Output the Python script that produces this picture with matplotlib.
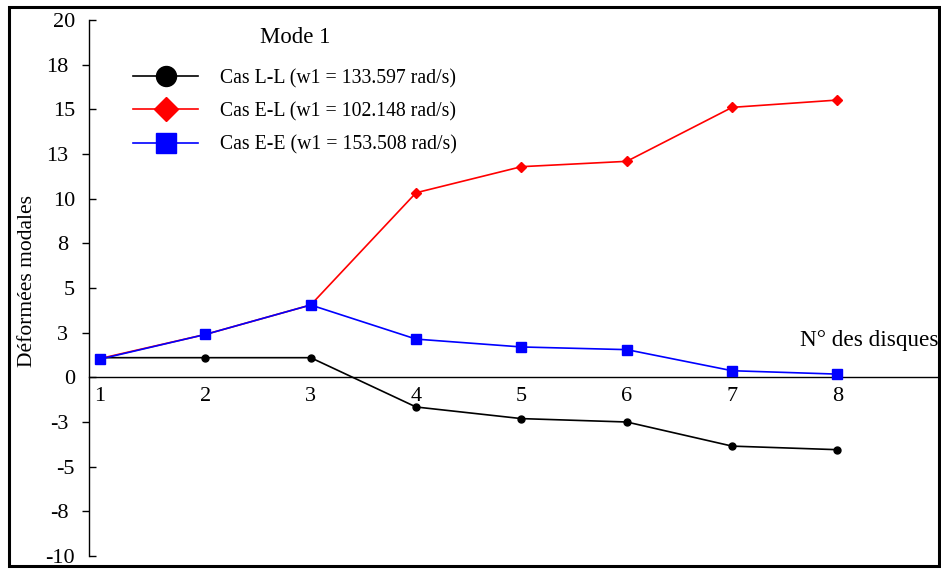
import matplotlib as mpl
mpl.use('Agg')
import matplotlib.pyplot as plt
from matplotlib.lines import Line2D
from matplotlib.patches import Rectangle

plt.rcParams['font.family'] = ['Liberation Serif', 'DejaVu Serif']

# N° des disques et déformées modales (mode 1)
disques = [1, 2, 3, 4, 5, 6, 7, 8]
cas_ll = [1.10, 1.10, 1.10, -1.66, -2.31, -2.50, -3.85, -4.05]
cas_el = [1.05, 2.40, 4.05, 10.33, 11.79, 12.09, 15.11, 15.52]
cas_ee = [1.02, 2.40, 4.05, 2.14, 1.70, 1.55, 0.37, 0.18]

lab_ll = 'Cas L-L (w1 = 133.597 rad/s)'
lab_el = 'Cas E-L (w1 = 102.148 rad/s)'
lab_ee = 'Cas E-E (w1 = 153.508 rad/s)'

yt_major = [-10, -5, 0, 5, 10, 15, 20]
yt_minor = [-7.5, -2.5, 2.5, 7.5, 12.5, 17.5]
yl_major = ['-10', '-5', '0', '5', '10', '15', '20']
yl_minor = ['-8', '-3', '3', '8', '13', '18']

W, H = 941, 569
fig = plt.figure(figsize=(W / 100, H / 100), dpi=100)
ax = fig.add_axes([89 / W, 13 / H, (940 - 89) / W, (556 - 20) / H])

ax.plot(disques, cas_ll, color='black', lw=1.2, marker='o', ms=5, zorder=3)
ax.plot(disques, cas_el, color='red', lw=1.2, marker='D', ms=4.6, zorder=4)
ax.plot(disques, cas_ee, color='blue', lw=1.2, marker='s', ms=6.5, zorder=5)

ax.set_xlim(0.8956, 8.973)
ax.set_ylim(-10, 20)

for s in ['top', 'right']:
    ax.spines[s].set_visible(False)
ax.spines['bottom'].set_position(('data', 0))
ax.spines['left'].set_linewidth(1.0)
ax.spines['bottom'].set_linewidth(1.0)

ax.set_xticks(disques)
ax.set_xticklabels([str(d) for d in disques])
ax.tick_params(axis='x', length=0, pad=7, labelsize=16)

ax.set_yticks(yt_major)
ax.set_yticklabels(yl_major)
ax.set_yticks(yt_minor, minor=True)
ax.set_yticklabels(yl_minor, minor=True)
ax.tick_params(axis='y', which='major', direction='in', length=5, width=1,
               pad=10, labelsize=16)
ax.tick_params(axis='y', which='minor', direction='out', length=5, width=1,
               pad=10, labelsize=16)

ax.set_ylabel('Déformées modales', fontsize=15.5)
ax.yaxis.set_label_coords(37 / W, 1 - 281 / H, transform=fig.transFigure)
ax.set_xlabel('N° des disques', fontsize=16.7, loc='right')
ax.xaxis.set_label_coords(938 / W, 1 - 330 / H, transform=fig.transFigure)

handles = [
    Line2D([], [], color='black', lw=1.2, marker='o', ms=14.4),
    Line2D([], [], color='red', lw=1.2, marker='D', ms=11.8),
    Line2D([], [], color='blue', lw=1.2, marker='s', ms=14.4),
]
leg = fig.legend(handles, [lab_ll, lab_el, lab_ee], loc='upper left',
                 bbox_to_anchor=(133 / W, 1 - 27 / H), frameon=False,
                 borderpad=0, borderaxespad=0, handlelength=3.3,
                 handletextpad=1.12, labelspacing=0.71, fontsize=14.2,
                 title='Mode 1', title_fontsize=16.4)
# espace entre le titre et les entrées
leg._legend_box.sep = 15

# cadre autour de la figure
fig.patches.append(Rectangle((8.5 / W, 1 - 566 / H), (939 - 8.5) / W,
                             (566 - 6.5) / H, transform=fig.transFigure,
                             fill=False, lw=2.2, ec='black'))

fig.savefig('out.png', dpi=100)
